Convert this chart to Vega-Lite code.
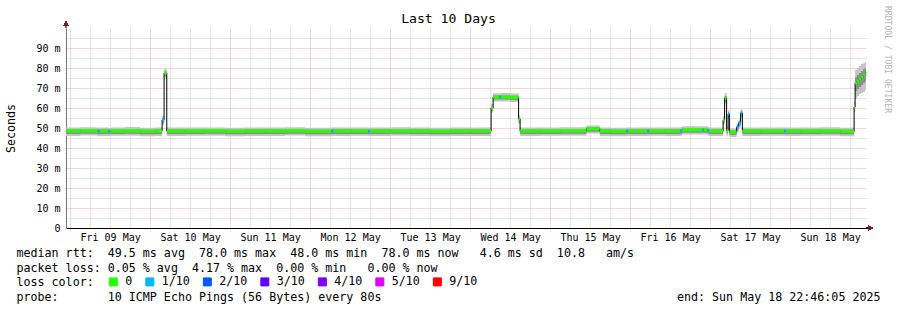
{
  "$schema": "https://vega.github.io/schema/vega-lite/v6.json",
  "width": 800,
  "height": 200,
  "autosize": {"type": "none"},
  "padding": {"left": 66, "top": 28, "right": 31, "bottom": 82},
  "background": "white",
  "title": {"text": "Last 10 Days", "font": "DejaVu Sans Mono", "fontSize": 13.1, "fontWeight": "normal", "color": "#000000", "anchor": "middle", "dx": -17.5, "dy": 35.5, "baseline": "alphabetic", "offset": 4.5},
  "config": {
    "view": {"stroke": null},
    "axis": {"labelFont": "DejaVu Sans Mono", "labelFontSize": 10, "labelColor": "#000000", "titleFont": "DejaVu Sans Mono", "titleFontSize": 11.66, "titleFontWeight": "normal", "titleColor": "#000000", "ticks": false, "domain": false, "gridDash": [1, 1], "gridWidth": 1, "gridOpacity": 1, "labelFlush": false, "labelOverlap": false}
  },
  "data": {
    "format": {"parse": {"t": "date"}},
    "values": [
      {"t": "2025-05-08T22:46", "v": 48.5, "loss": "0", "lo": 46.0, "lo2": 47.0, "hi2": 49.2, "hi": 50.2},
      {"t": "2025-05-09T03:00", "v": 48.6, "loss": "0", "lo": 46.2, "lo2": 47.1, "hi2": 49.3, "hi": 50.4},
      {"t": "2025-05-09T08:06", "v": 48.5, "loss": "0", "lo": 46.0, "lo2": 47.0, "hi2": 49.2, "hi": 50.1},
      {"t": "2025-05-09T08:24", "v": 48.4, "loss": "1/10", "lo": 45.9, "lo2": 46.9, "hi2": 49.1, "hi": 50.2},
      {"t": "2025-05-09T08:51", "v": 48.5, "loss": "0", "lo": 46.0, "lo2": 47.0, "hi2": 49.2, "hi": 50.3},
      {"t": "2025-05-09T11:33", "v": 48.4, "loss": "1/10", "lo": 45.9, "lo2": 46.9, "hi2": 49.1, "hi": 50.0},
      {"t": "2025-05-09T12:00", "v": 48.5, "loss": "0", "lo": 46.1, "lo2": 47.0, "hi2": 49.2, "hi": 50.2},
      {"t": "2025-05-09T16:30", "v": 48.6, "loss": "0", "lo": 46.1, "lo2": 47.1, "hi2": 49.3, "hi": 50.5},
      {"t": "2025-05-09T21:00", "v": 48.4, "loss": "0", "lo": 45.9, "lo2": 46.9, "hi2": 49.1, "hi": 50.1},
      {"t": "2025-05-10T01:30", "v": 48.5, "loss": "0", "lo": 46.0, "lo2": 47.0, "hi2": 49.2, "hi": 50.2},
      {"t": "2025-05-10T03:36", "v": 54.0, "loss": "1/10", "lo": 51.5, "lo2": 52.5, "hi2": 54.8, "hi": 56.0},
      {"t": "2025-05-10T04:12", "v": 77.5, "loss": "0", "lo": 75.0, "lo2": 76.0, "hi2": 78.3, "hi": 79.5},
      {"t": "2025-05-10T05:00", "v": 48.5, "loss": "0", "lo": 46.0, "lo2": 47.0, "hi2": 49.2, "hi": 50.2},
      {"t": "2025-05-10T10:30", "v": 48.5, "loss": "0", "lo": 46.1, "lo2": 47.0, "hi2": 49.2, "hi": 50.3},
      {"t": "2025-05-10T16:30", "v": 48.6, "loss": "0", "lo": 46.1, "lo2": 47.1, "hi2": 49.3, "hi": 50.2},
      {"t": "2025-05-10T22:30", "v": 48.4, "loss": "0", "lo": 45.9, "lo2": 46.9, "hi2": 49.1, "hi": 50.1},
      {"t": "2025-05-11T04:30", "v": 48.5, "loss": "0", "lo": 46.0, "lo2": 47.0, "hi2": 49.2, "hi": 50.3},
      {"t": "2025-05-11T10:30", "v": 48.5, "loss": "0", "lo": 46.0, "lo2": 47.0, "hi2": 49.2, "hi": 50.2},
      {"t": "2025-05-11T16:30", "v": 48.6, "loss": "0", "lo": 46.2, "lo2": 47.1, "hi2": 49.3, "hi": 50.4},
      {"t": "2025-05-11T22:30", "v": 48.4, "loss": "0", "lo": 45.9, "lo2": 46.9, "hi2": 49.1, "hi": 50.1},
      {"t": "2025-05-12T06:27", "v": 48.5, "loss": "1/10", "lo": 46.0, "lo2": 47.0, "hi2": 49.2, "hi": 50.2},
      {"t": "2025-05-12T06:54", "v": 48.5, "loss": "0", "lo": 46.0, "lo2": 47.0, "hi2": 49.2, "hi": 50.3},
      {"t": "2025-05-12T12:00", "v": 48.5, "loss": "0", "lo": 46.1, "lo2": 47.0, "hi2": 49.2, "hi": 50.2},
      {"t": "2025-05-12T17:33", "v": 48.4, "loss": "1/10", "lo": 45.9, "lo2": 46.9, "hi2": 49.1, "hi": 50.1},
      {"t": "2025-05-12T18:00", "v": 48.5, "loss": "0", "lo": 46.0, "lo2": 47.0, "hi2": 49.2, "hi": 50.2},
      {"t": "2025-05-13T00:00", "v": 48.6, "loss": "0", "lo": 46.1, "lo2": 47.1, "hi2": 49.3, "hi": 50.4},
      {"t": "2025-05-13T06:00", "v": 48.5, "loss": "0", "lo": 46.0, "lo2": 47.0, "hi2": 49.2, "hi": 50.2},
      {"t": "2025-05-13T12:00", "v": 48.4, "loss": "0", "lo": 45.9, "lo2": 46.9, "hi2": 49.1, "hi": 50.1},
      {"t": "2025-05-13T18:00", "v": 48.5, "loss": "0", "lo": 46.0, "lo2": 47.0, "hi2": 49.2, "hi": 50.3},
      {"t": "2025-05-14T00:00", "v": 48.5, "loss": "0", "lo": 46.0, "lo2": 47.0, "hi2": 49.2, "hi": 50.2},
      {"t": "2025-05-14T06:18", "v": 60.0, "loss": "0", "lo": 57.8, "lo2": 58.8, "hi2": 60.8, "hi": 62.0},
      {"t": "2025-05-14T06:54", "v": 65.5, "loss": "0", "lo": 63.2, "lo2": 64.2, "hi2": 66.3, "hi": 67.4},
      {"t": "2025-05-14T08:51", "v": 65.5, "loss": "1/10", "lo": 63.2, "lo2": 64.2, "hi2": 66.3, "hi": 67.2},
      {"t": "2025-05-14T09:18", "v": 65.5, "loss": "0", "lo": 63.3, "lo2": 64.2, "hi2": 66.3, "hi": 67.5},
      {"t": "2025-05-14T12:00", "v": 65.3, "loss": "0", "lo": 63.0, "lo2": 64.0, "hi2": 66.1, "hi": 67.2},
      {"t": "2025-05-14T14:33", "v": 54.5, "loss": "0", "lo": 52.0, "lo2": 53.0, "hi2": 55.3, "hi": 56.2},
      {"t": "2025-05-14T15:00", "v": 48.5, "loss": "0", "lo": 46.0, "lo2": 47.0, "hi2": 49.2, "hi": 50.2},
      {"t": "2025-05-14T21:00", "v": 48.5, "loss": "0", "lo": 46.1, "lo2": 47.0, "hi2": 49.2, "hi": 50.3},
      {"t": "2025-05-15T03:00", "v": 48.6, "loss": "0", "lo": 46.1, "lo2": 47.1, "hi2": 49.3, "hi": 50.4},
      {"t": "2025-05-15T10:54", "v": 49.6, "loss": "0", "lo": 47.2, "lo2": 48.1, "hi2": 50.3, "hi": 51.3},
      {"t": "2025-05-15T14:54", "v": 48.5, "loss": "0", "lo": 46.0, "lo2": 47.0, "hi2": 49.2, "hi": 50.2},
      {"t": "2025-05-15T18:00", "v": 48.4, "loss": "0", "lo": 45.9, "lo2": 46.9, "hi2": 49.1, "hi": 50.1},
      {"t": "2025-05-15T22:57", "v": 48.5, "loss": "1/10", "lo": 46.0, "lo2": 47.0, "hi2": 49.2, "hi": 50.2},
      {"t": "2025-05-15T23:24", "v": 48.5, "loss": "0", "lo": 46.0, "lo2": 47.0, "hi2": 49.2, "hi": 50.3},
      {"t": "2025-05-16T05:15", "v": 48.5, "loss": "1/10", "lo": 46.0, "lo2": 47.0, "hi2": 49.2, "hi": 50.2},
      {"t": "2025-05-16T05:42", "v": 48.5, "loss": "0", "lo": 46.1, "lo2": 47.0, "hi2": 49.2, "hi": 50.2},
      {"t": "2025-05-16T10:30", "v": 48.5, "loss": "0", "lo": 46.0, "lo2": 47.0, "hi2": 49.2, "hi": 50.3},
      {"t": "2025-05-16T15:09", "v": 48.6, "loss": "1/10", "lo": 46.1, "lo2": 47.1, "hi2": 49.3, "hi": 50.4},
      {"t": "2025-05-16T15:36", "v": 49.1, "loss": "0", "lo": 46.7, "lo2": 47.6, "hi2": 49.8, "hi": 50.9},
      {"t": "2025-05-16T21:45", "v": 49.1, "loss": "1/10", "lo": 46.7, "lo2": 47.6, "hi2": 49.8, "hi": 50.8},
      {"t": "2025-05-16T22:12", "v": 49.1, "loss": "0", "lo": 46.7, "lo2": 47.6, "hi2": 49.8, "hi": 50.9},
      {"t": "2025-05-16T23:15", "v": 48.8, "loss": "1/10", "lo": 46.3, "lo2": 47.3, "hi2": 49.5, "hi": 50.5},
      {"t": "2025-05-16T23:42", "v": 48.5, "loss": "0", "lo": 46.0, "lo2": 47.0, "hi2": 49.2, "hi": 50.2},
      {"t": "2025-05-17T03:54", "v": 54.0, "loss": "0", "lo": 51.5, "lo2": 52.5, "hi2": 54.8, "hi": 56.0},
      {"t": "2025-05-17T04:21", "v": 65.0, "loss": "0", "lo": 62.3, "lo2": 63.4, "hi2": 66.0, "hi": 67.5},
      {"t": "2025-05-17T04:57", "v": 48.8, "loss": "0", "lo": 46.3, "lo2": 47.3, "hi2": 49.5, "hi": 50.6},
      {"t": "2025-05-17T05:24", "v": 57.0, "loss": "1/10", "lo": 54.6, "lo2": 55.6, "hi2": 57.8, "hi": 59.0},
      {"t": "2025-05-17T05:47", "v": 48.0, "loss": "0", "lo": 45.5, "lo2": 46.5, "hi2": 48.7, "hi": 49.8},
      {"t": "2025-05-17T07:57", "v": 50.5, "loss": "1/10", "lo": 48.0, "lo2": 49.0, "hi2": 51.2, "hi": 52.3},
      {"t": "2025-05-17T08:33", "v": 52.6, "loss": "1/10", "lo": 50.1, "lo2": 51.1, "hi2": 53.3, "hi": 54.4},
      {"t": "2025-05-17T09:09", "v": 57.5, "loss": "1/10", "lo": 55.0, "lo2": 56.0, "hi2": 58.3, "hi": 59.4},
      {"t": "2025-05-17T09:41", "v": 48.5, "loss": "0", "lo": 46.0, "lo2": 47.0, "hi2": 49.2, "hi": 50.2},
      {"t": "2025-05-17T15:00", "v": 48.5, "loss": "0", "lo": 46.1, "lo2": 47.0, "hi2": 49.2, "hi": 50.3},
      {"t": "2025-05-17T22:21", "v": 48.5, "loss": "1/10", "lo": 46.0, "lo2": 47.0, "hi2": 49.2, "hi": 50.2},
      {"t": "2025-05-17T22:48", "v": 48.5, "loss": "0", "lo": 46.0, "lo2": 47.0, "hi2": 49.2, "hi": 50.2},
      {"t": "2025-05-18T03:00", "v": 48.5, "loss": "0", "lo": 46.1, "lo2": 47.0, "hi2": 49.2, "hi": 50.3},
      {"t": "2025-05-18T09:00", "v": 48.6, "loss": "0", "lo": 46.1, "lo2": 47.1, "hi2": 49.3, "hi": 50.4},
      {"t": "2025-05-18T15:00", "v": 48.4, "loss": "0", "lo": 45.9, "lo2": 46.9, "hi2": 49.1, "hi": 50.1},
      {"t": "2025-05-18T19:12", "v": 60.5, "loss": "0", "lo": 58.0, "lo2": 59.2, "hi2": 61.5, "hi": 63.0},
      {"t": "2025-05-18T19:30", "v": 72.5, "loss": "0", "lo": 65.0, "lo2": 68.5, "hi2": 75.5, "hi": 79.0},
      {"t": "2025-05-18T20:06", "v": 73.5, "loss": "0", "lo": 66.0, "lo2": 69.5, "hi2": 76.5, "hi": 80.0},
      {"t": "2025-05-18T20:42", "v": 74.5, "loss": "0", "lo": 67.0, "lo2": 70.5, "hi2": 77.5, "hi": 81.0},
      {"t": "2025-05-18T21:18", "v": 75.5, "loss": "0", "lo": 67.5, "lo2": 71.5, "hi2": 78.5, "hi": 82.0},
      {"t": "2025-05-18T21:54", "v": 76.5, "loss": "0", "lo": 68.0, "lo2": 72.5, "hi2": 79.5, "hi": 82.5},
      {"t": "2025-05-18T22:30", "v": 77.5, "loss": "0", "lo": 69.0, "lo2": 73.5, "hi2": 80.0, "hi": 83.0},
      {"t": "2025-05-18T22:46", "v": 77.8, "loss": "0", "lo": 69.5, "lo2": 74.0, "hi2": 80.3, "hi": 83.2}
    ]
  },
  "transform": [{"window": [{"op": "lead", "field": "t", "as": "t2"}]}],
  "resolve": {"axis": {"x": "independent", "y": "independent"}},
  "layer": [
    {
      "mark": {"type": "area", "interpolate": "step-after", "color": "#c4c4c4"},
      "encoding": {
        "x": {"field": "t", "type": "temporal",
          "scale": {"domain": [{"year": 2025, "month": 5, "date": 8, "hours": 22, "minutes": 46, "seconds": 5}, {"year": 2025, "month": 5, "date": 18, "hours": 22, "minutes": 46, "seconds": 5}], "nice": false},
          "axis": {"orient": "bottom", "grid": true, "gridColor": "#cccccc", "labels": false, "title": null,
            "values": [
              {"year": 2025, "month": 5, "date": 9, "hours": 6}, {"year": 2025, "month": 5, "date": 9, "hours": 12}, {"year": 2025, "month": 5, "date": 9, "hours": 18},
              {"year": 2025, "month": 5, "date": 10, "hours": 6}, {"year": 2025, "month": 5, "date": 10, "hours": 12}, {"year": 2025, "month": 5, "date": 10, "hours": 18},
              {"year": 2025, "month": 5, "date": 11, "hours": 6}, {"year": 2025, "month": 5, "date": 11, "hours": 12}, {"year": 2025, "month": 5, "date": 11, "hours": 18},
              {"year": 2025, "month": 5, "date": 12, "hours": 6}, {"year": 2025, "month": 5, "date": 12, "hours": 12}, {"year": 2025, "month": 5, "date": 12, "hours": 18},
              {"year": 2025, "month": 5, "date": 13, "hours": 6}, {"year": 2025, "month": 5, "date": 13, "hours": 12}, {"year": 2025, "month": 5, "date": 13, "hours": 18},
              {"year": 2025, "month": 5, "date": 14, "hours": 6}, {"year": 2025, "month": 5, "date": 14, "hours": 12}, {"year": 2025, "month": 5, "date": 14, "hours": 18},
              {"year": 2025, "month": 5, "date": 15, "hours": 6}, {"year": 2025, "month": 5, "date": 15, "hours": 12}, {"year": 2025, "month": 5, "date": 15, "hours": 18},
              {"year": 2025, "month": 5, "date": 16, "hours": 6}, {"year": 2025, "month": 5, "date": 16, "hours": 12}, {"year": 2025, "month": 5, "date": 16, "hours": 18},
              {"year": 2025, "month": 5, "date": 17, "hours": 6}, {"year": 2025, "month": 5, "date": 17, "hours": 12}, {"year": 2025, "month": 5, "date": 17, "hours": 18},
              {"year": 2025, "month": 5, "date": 18, "hours": 6}, {"year": 2025, "month": 5, "date": 18, "hours": 12}, {"year": 2025, "month": 5, "date": 18, "hours": 18}
            ]}},
        "y": {"field": "lo", "type": "quantitative", "scale": {"domain": [0, 100], "nice": false},
          "axis": {"orient": "right", "values": [5, 15, 25, 35, 45, 55, 65, 75, 85, 95], "grid": true, "gridColor": "#cccccc", "labels": false,
            "title": "RRDTOOL / TOBI OETIKER", "titleColor": "#b4b4b4", "titleFontSize": 8.1, "titleAngle": 90, "titleX": 20, "titleY": 31, "titleAlign": "center", "titleBaseline": "middle"}},
        "y2": {"field": "hi"}
      }
    },
    {
      "mark": {"type": "area", "interpolate": "step-after", "color": "#8e8e8e"},
      "encoding": {
        "x": {"field": "t", "type": "temporal",
          "scale": {"domain": [{"year": 2025, "month": 5, "date": 8, "hours": 22, "minutes": 46, "seconds": 5}, {"year": 2025, "month": 5, "date": 18, "hours": 22, "minutes": 46, "seconds": 5}], "nice": false},
          "axis": {"orient": "bottom", "grid": true, "gridColor": "#f0a8a8", "labels": false, "ticks": true, "tickSize": 3, "tickColor": "#f0a8a8", "tickDash": [1, 1],
            "values": [
              {"year": 2025, "month": 5, "date": 9}, {"year": 2025, "month": 5, "date": 10}, {"year": 2025, "month": 5, "date": 11}, {"year": 2025, "month": 5, "date": 12}, {"year": 2025, "month": 5, "date": 13},
              {"year": 2025, "month": 5, "date": 14}, {"year": 2025, "month": 5, "date": 15}, {"year": 2025, "month": 5, "date": 16}, {"year": 2025, "month": 5, "date": 17}, {"year": 2025, "month": 5, "date": 18}
            ],
            "title": "end: Sun May 18 22:46:05 2025", "titleX": 814, "titleY": 72.5, "titleAlign": "right", "titleBaseline": "alphabetic", "titleAnchor": null}},
        "y": {"field": "lo2", "type": "quantitative", "scale": {"domain": [0, 100], "nice": false},
          "axis": {"orient": "left", "values": [0, 10, 20, 30, 40, 50, 60, 70, 80, 90], "grid": true, "gridColor": "#f0a8a8",
            "ticks": true, "tickSize": 2, "tickColor": "#f0a8a8", "tickDash": [1, 1],
            "domain": true, "domainColor": "#777777", "labelPadding": 4,
            "labelExpr": "datum.value == 0 ? '0\u00a0\u00a0' : datum.value + '\u00a0m'",
            "title": "Seconds", "titleX": -55, "titleY": 100, "titleAngle": -90, "titleAlign": "center", "titleBaseline": "middle"}},
        "y2": {"field": "hi2"}
      }
    },
    {
      "mark": {"type": "line", "interpolate": "step-after", "color": "#000000", "strokeWidth": 1},
      "encoding": {
        "x": {"field": "t", "type": "temporal",
          "scale": {"domain": [{"year": 2025, "month": 5, "date": 8, "hours": 22, "minutes": 46, "seconds": 5}, {"year": 2025, "month": 5, "date": 18, "hours": 22, "minutes": 46, "seconds": 5}], "nice": false},
          "axis": {"orient": "bottom", "grid": false, "domain": true, "domainColor": "#000000", "labelPadding": 4.5, "format": "%a %d %b",
            "values": [
              {"year": 2025, "month": 5, "date": 9, "hours": 12}, {"year": 2025, "month": 5, "date": 10, "hours": 12}, {"year": 2025, "month": 5, "date": 11, "hours": 12}, {"year": 2025, "month": 5, "date": 12, "hours": 12}, {"year": 2025, "month": 5, "date": 13, "hours": 12},
              {"year": 2025, "month": 5, "date": 14, "hours": 12}, {"year": 2025, "month": 5, "date": 15, "hours": 12}, {"year": 2025, "month": 5, "date": 16, "hours": 12}, {"year": 2025, "month": 5, "date": 17, "hours": 12}, {"year": 2025, "month": 5, "date": 18, "hours": 12}
            ],
            "title": [
              "median rtt:\u00a0\u00a049.5 ms avg\u00a0\u00a078.0 ms max\u00a0\u00a048.0 ms min\u00a0\u00a078.0 ms now\u00a0\u00a0\u00a04.6 ms sd\u00a0\u00a010.8\u00a0\u00a0\u00a0am/s",
              "packet loss: 0.05 % avg\u00a0\u00a04.17 % max\u00a0\u00a00.00 % min\u00a0\u00a0\u00a00.00 % now",
              "loss color:",
              "probe:\u00a0\u00a0\u00a0\u00a0\u00a0\u00a0\u00a010 ICMP Echo Pings (56 Bytes) every 80s"
            ],
            "titleX": -50, "titleY": 19.8, "titleAlign": "left", "titleBaseline": "top", "titleLineHeight": 14.6, "titleAnchor": null}},
        "y": {"field": "v", "type": "quantitative", "scale": {"domain": [0, 100], "nice": false}, "axis": null}
      }
    },
    {
      "transform": [{"filter": "datum.t2 != null"}],
      "mark": {"type": "rule", "strokeWidth": 3.2, "strokeCap": "butt"},
      "encoding": {
        "x": {"field": "t", "type": "temporal", "axis": null},
        "x2": {"field": "t2"},
        "y": {"field": "v", "type": "quantitative", "scale": {"domain": [0, 100], "nice": false}, "axis": null},
        "color": {"field": "loss", "type": "nominal",
          "scale": {"domain": ["0", "1/10", "2/10", "3/10", "4/10", "5/10", "9/10"], "range": ["#26ff00", "#00b8ff", "#0059ff", "#5e00ff", "#7e00ff", "#dd00ff", "#ff0000"]},
          "legend": {"orient": "none", "legendX": 41.5, "legendY": 248, "direction": "horizontal", "columns": 7, "padding": 0, "title": null,
            "labelFont": "DejaVu Sans Mono", "labelFontSize": 11.66, "labelColor": "#000000", "labelOffset": 6, "columnPadding": 10.5,
            "symbolType": "square", "symbolSize": 64, "symbolStrokeWidth": 1, "symbolStrokeColor": "#000000",
            "encode": {"symbols": {"update": {"fill": {"scale": "color", "field": "value"}, "fillOpacity": {"value": 1}, "stroke": {"value": "#000000"}, "strokeWidth": {"value": 1}}}}}}
      }
    },
    {
      "mark": {"type": "rule", "color": "#777777", "strokeWidth": 1},
      "encoding": {
        "x": {"datum": {"year": 2025, "month": 5, "date": 8, "hours": 22, "minutes": 46, "seconds": 5}, "type": "temporal", "axis": null},
        "y": {"datum": 100, "type": "quantitative", "axis": null},
        "y2": {"datum": 102}
      }
    },
    {
      "mark": {"type": "point", "shape": "triangle-up", "filled": true, "color": "#7f1d1d", "opacity": 1, "size": 22},
      "encoding": {
        "x": {"datum": {"year": 2025, "month": 5, "date": 8, "hours": 22, "minutes": 46, "seconds": 5}, "type": "temporal", "axis": null},
        "y": {"datum": 102.3, "type": "quantitative", "axis": null}
      }
    },
    {
      "mark": {"type": "rule", "color": "#000000", "strokeWidth": 1},
      "encoding": {
        "x": {"datum": {"year": 2025, "month": 5, "date": 18, "hours": 22, "minutes": 46, "seconds": 5}, "type": "temporal", "axis": null},
        "x2": {"datum": {"year": 2025, "month": 5, "date": 18, "hours": 23, "minutes": 58}},
        "y": {"datum": 0, "type": "quantitative", "axis": null}
      }
    },
    {
      "mark": {"type": "point", "shape": "triangle-right", "filled": true, "color": "#7f1d1d", "opacity": 1, "size": 22},
      "encoding": {
        "x": {"datum": {"year": 2025, "month": 5, "date": 19, "hours": 0, "minutes": 7}, "type": "temporal", "axis": null},
        "y": {"datum": 0, "type": "quantitative", "axis": null}
      }
    }
  ]
}
